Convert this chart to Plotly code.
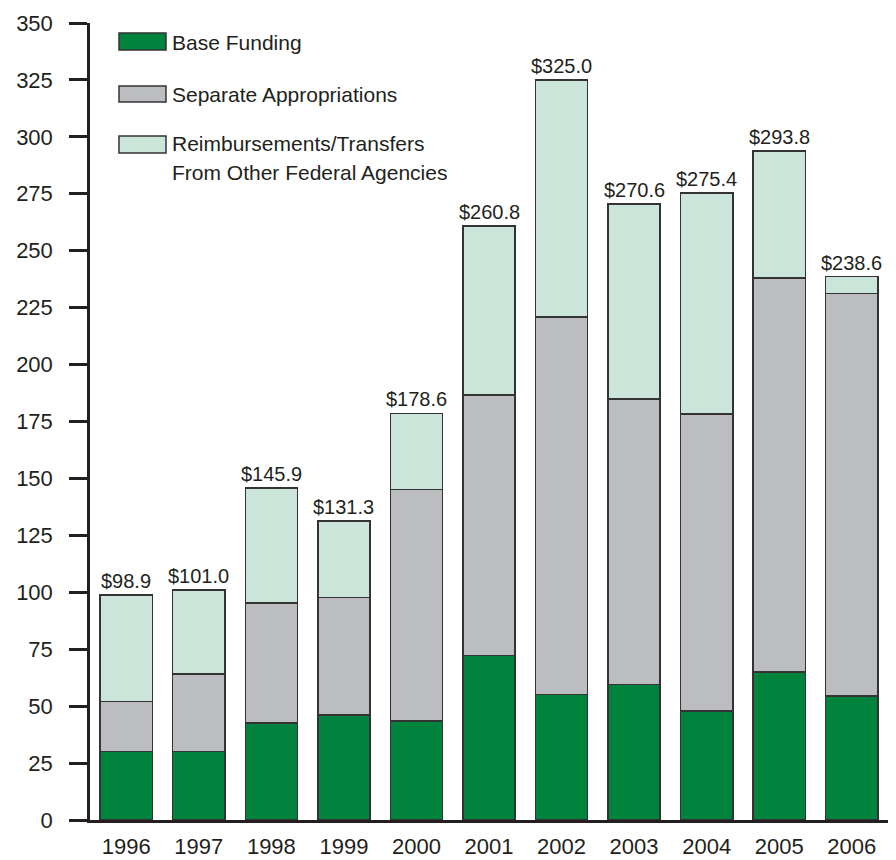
import plotly.graph_objects as go

years = ["1996", "1997", "1998", "1999", "2000", "2001", "2002", "2003", "2004", "2005", "2006"]
base_funding = [30.0, 30.0, 42.6, 46.1, 43.5, 72.2, 55.2, 59.6, 47.9, 64.9, 54.5]
separate_appropriations = [22.0, 34.1, 52.6, 51.7, 101.7, 114.4, 165.7, 125.2, 130.5, 173.2, 176.7]
reimbursements = [46.9, 36.9, 50.7, 33.5, 33.4, 74.2, 104.1, 85.8, 97.0, 55.7, 7.4]
totals = [98.9, 101.0, 145.9, 131.3, 178.6, 260.8, 325.0, 270.6, 275.4, 293.8, 238.6]
total_labels = ["$98.9", "$101.0", "$145.9", "$131.3", "$178.6", "$260.8", "$325.0", "$270.6", "$275.4", "$293.8", "$238.6"]
y_ticks = [0, 25, 50, 75, 100, 125, 150, 175, 200, 225, 250, 275, 300, 325, 350]

series_names = ["Base Funding", "Separate Appropriations", "Reimbursements/Transfers<br>From Other Federal Agencies"]
GREEN = "#00843D"
GRAY = "#BCBDC0"
LIGHT = "#CCE5DA"
EDGE = "#333333"
TEXT = "#231F20"
FONT = "Liberation Sans, Arial, sans-serif"

fig = go.Figure()
for vals, name, col in [(base_funding, series_names[0], GREEN),
                        (separate_appropriations, series_names[1], GRAY),
                        (reimbursements, series_names[2], LIGHT)]:
    fig.add_trace(go.Bar(x=years, y=vals, name=name, marker=dict(color=col, line=dict(color=EDGE, width=1.5)),
                         showlegend=False, hoverinfo="x+y"))

annotations = []
for i, (tot, lab) in enumerate(zip(totals, total_labels)):
    annotations.append(dict(x=i, xref="x", yref="y", y=tot, text=lab, showarrow=False, xanchor="center", yanchor="bottom",
                            yshift=1, font=dict(family=FONT, size=20, color=TEXT)))

# manual legend (positions given in page pixels, converted to plot-domain fractions)
def px_x(p):
    return (p - 90) / 798.0

def px_y(p):
    return (820 - p) / 797.0

shapes = []
legend_items = [(series_names[0], GREEN, 33, 50, [43]),
                (series_names[1], GRAY, 86, 102, [95]),
                (series_names[2], LIGHT, 136, 153, [144, 172])]
for name, col, y0, y1, text_ys in legend_items:
    shapes.append(dict(type="rect", xref="paper", yref="paper", x0=px_x(119), x1=px_x(166), y0=px_y(y1), y1=px_y(y0),
                       fillcolor=col, line=dict(color=EDGE, width=1.5)))
    for line_text, ty in zip(name.split("<br>"), text_ys):
        annotations.append(dict(xref="paper", yref="paper", x=px_x(170), y=px_y(ty), text=line_text, showarrow=False,
                                xanchor="left", yanchor="middle", font=dict(family=FONT, size=21, color=TEXT)))

# page has an 8px body margin, so the figure is 888x852 placed at (8, 8)
fig.update_layout(
    width=888, height=852,
    margin=dict(l=82, r=8, t=15, b=40, autoexpand=False),
    paper_bgcolor="white", plot_bgcolor="white",
    barmode="stack", bargap=0.28,
    showlegend=False,
    annotations=annotations, shapes=shapes,
    font=dict(family=FONT, color=TEXT),
)
fig.update_xaxes(type="category", range=[-0.5, 10.5], automargin=False, showline=True, linewidth=2.5, linecolor=TEXT,
                 ticks="", showgrid=False, ticklabelstandoff=5, tickfont=dict(family=FONT, size=22, color=TEXT))
fig.update_yaxes(range=[0, 350], tickvals=y_ticks, ticks="outside", ticklen=18, tickwidth=2.5, tickcolor=TEXT,
                 automargin=False, showline=True, linewidth=2.5, linecolor=TEXT, showgrid=False, zeroline=False,
                 ticklabelstandoff=12, tickfont=dict(family=FONT, size=22, color=TEXT))

fig.write_html("out.html")
